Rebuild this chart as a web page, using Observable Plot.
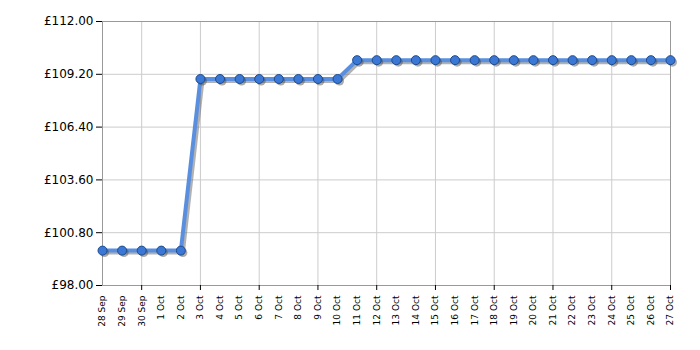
<!DOCTYPE html>
<html><head><meta charset="utf-8">
<script src="https://cdn.jsdelivr.net/npm/d3@7"></script>
<script src="https://cdn.jsdelivr.net/npm/@observablehq/plot@0.6"></script>
<style>
body{margin:0;background:#fff;}
svg{font-family:"DejaVu Sans",Verdana,sans-serif;}
</style></head>
<body><div id="chart"></div>
<script>
const dates = ["28 Sep","29 Sep","30 Sep","1 Oct","2 Oct","3 Oct","4 Oct","5 Oct","6 Oct","7 Oct","8 Oct","9 Oct","10 Oct","11 Oct","12 Oct","13 Oct","14 Oct","15 Oct","16 Oct","17 Oct","18 Oct","19 Oct","20 Oct","21 Oct","22 Oct","23 Oct","24 Oct","25 Oct","26 Oct","27 Oct"];
const prices = [99.85,99.85,99.85,99.85,99.85,108.95,108.95,108.95,108.95,108.95,108.95,108.95,108.95,109.95,109.95,109.95,109.95,109.95,109.95,109.95,109.95,109.95,109.95,109.95,109.95,109.95,109.95,109.95,109.95,109.95];
const yTicks = [98, 100.8, 103.6, 106.4, 109.2, 112];

const data = dates.map((d, i) => ({date: d, price: prices[i]}));
const vGrid = dates.filter((d, i) => i % 3 === 2);

const chart = Plot.plot({
  width: 700,
  height: 350,
  marginLeft: 102,
  marginRight: 30,
  marginTop: 21,
  marginBottom: 65,
  style: {fontFamily: "'DejaVu Sans', Verdana, sans-serif", background: "#fff"},
  x: {type: "point", domain: dates, padding: 0, round: false},
  y: {domain: [98, 112]},
  marks: [
    Plot.ruleY(yTicks, {stroke: "#cccccc", strokeWidth: 1}),
    Plot.ruleX(vGrid, {stroke: "#cccccc", strokeWidth: 1}),
    Plot.ruleX([dates[0], dates[dates.length - 1]], {stroke: "#999", strokeWidth: 1}),
    Plot.ruleY([98, 112], {stroke: "#999", strokeWidth: 1}),
    Plot.axisY({ticks: yTicks, tickFormat: d => "£" + d.toFixed(2), tickSize: 6, tickPadding: 3, fontSize: 12, color: "#000", label: null}),
    Plot.axisX({ticks: vGrid, tickFormat: null, tickSize: 5, label: null, stroke: "#000"}),
    Plot.axisX({ticks: dates, tickSize: 0, tickRotate: -90, tickPadding: 10, fontSize: 9, color: "#000", label: null}),
    Plot.line(data, {x: "date", y: "price", stroke: "#666", strokeOpacity: 0.5, strokeWidth: 4, dx: 2, dy: 2}),
    Plot.line(data, {x: "date", y: "price", stroke: "#5a8fe0", strokeWidth: 4}),
    Plot.dot(data, {x: "date", y: "price", r: 4.5, fill: "#444", fillOpacity: 0.45, dx: 2, dy: 2}),
    Plot.dot(data, {x: "date", y: "price", r: 4.5, fill: "#3b78d6", stroke: "#1e4b8c", strokeWidth: 1})
  ]
});
document.getElementById("chart").appendChild(chart);
</script>
</body></html>
